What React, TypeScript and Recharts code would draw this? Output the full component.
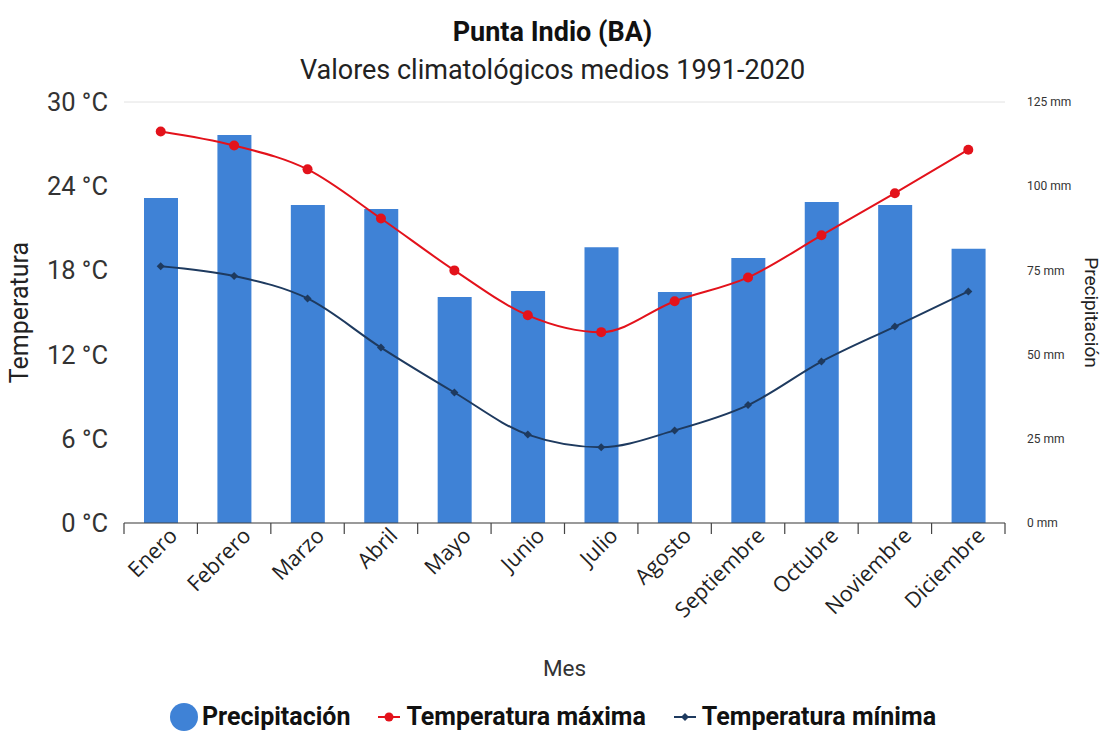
import React from 'react';
import {
  Bar,
  CartesianGrid,
  ComposedChart,
  Line,
  XAxis,
  YAxis,
} from 'recharts';

const months = ['Enero', 'Febrero', 'Marzo', 'Abril', 'Mayo', 'Junio', 'Julio', 'Agosto', 'Septiembre', 'Octubre', 'Noviembre', 'Diciembre'];
const precipitacion = [96.5, 115.2, 94.4, 93.2, 67.1, 68.9, 81.9, 68.6, 78.7, 95.3, 94.4, 81.4];
const tempMax = [27.9, 26.9, 25.2, 21.7, 18.0, 14.8, 13.6, 15.8, 17.5, 20.5, 23.5, 26.6];
const tempMin = [18.3, 17.6, 16.0, 12.5, 9.3, 6.3, 5.4, 6.6, 8.4, 11.5, 14.0, 16.5];
const tempTicks = [0, 6, 12, 18, 24, 30];
const precTicks = [0, 25, 50, 75, 100, 125];

const data = months.map((mes, i) => ({
  mes,
  prec: precipitacion[i],
  max: tempMax[i],
  min: tempMin[i],
}));

const W = 1105;
const H = 734;
const LEFT = 124;
const RIGHT = 100;
const TOP = 102;
const BOTTOM = 211;
const bandW = (W - LEFT - RIGHT) / months.length;

const BLUE = '#3f82d6';
const RED = '#e3121b';
const NAVY = '#1e3a5f';
const FONT = 'Roboto, "Noto Sans", sans-serif';

// x tick: boundary tick marks + rotated month label
function MonthTick(props: any) {
  const { x, y, payload, index } = props;
  const left = x - bandW / 2;
  const tx = x + 18;
  const ty = y + 14;
  return (
    <g>
      <line x1={left} y1={y} x2={left} y2={y + 11} stroke="#444" strokeWidth={1.2} />
      {index === months.length - 1 && (
        <line x1={x + bandW / 2} y1={y} x2={x + bandW / 2} y2={y + 11} stroke="#444" strokeWidth={1.2} />
      )}
      <text
        x={tx}
        y={ty}
        textAnchor="end"
        transform={`rotate(-45 ${tx} ${ty})`}
        fontSize={21.5}
        fontFamily='"Open Sans", sans-serif'
        fill="#222"
      >
        {payload.value}
      </text>
    </g>
  );
}

function Diamond(props: any) {
  const { cx, cy } = props;
  if (cx == null || cy == null) return null;
  const r = 4;
  return <polygon points={`${cx},${cy - r} ${cx + r},${cy} ${cx},${cy + r} ${cx - r},${cy}`} fill={NAVY} />;
}

export default function App() {
  return (
    <div style={{ position: 'absolute', left: 0, top: 0, width: W, height: H, background: '#fff', fontFamily: FONT }}>
      <div style={{ position: 'absolute', top: 15, left: 0, width: W, textAlign: 'center', fontSize: 27, fontWeight: 700, color: '#111', lineHeight: '34px' }}>
        Punta Indio (BA)
      </div>
      <div style={{ position: 'absolute', top: 53, left: 0, width: W, textAlign: 'center', fontSize: 27, color: '#222', lineHeight: '34px' }}>
        Valores climatológicos medios 1991-2020
      </div>
      <ComposedChart width={W} height={H} data={data} margin={{ top: TOP, right: 0, left: 0, bottom: 0 }}>
        <CartesianGrid vertical={false} stroke="#e2e2e2" />
        <XAxis
          dataKey="mes"
          height={BOTTOM}
          interval={0}
          tickLine={false}
          tickSize={0}
          tickMargin={0}
          stroke="#444"
          strokeWidth={1.2}
          tick={<MonthTick />}
          label={{ value: 'Mes', position: 'insideTop', dy: 132, fontSize: 22.5, fill: '#333', fontFamily: FONT }}
        />
        <YAxis
          yAxisId="t"
          width={LEFT}
          domain={[0, 30]}
          ticks={tempTicks}
          axisLine={false}
          tickLine={false}
          tickMargin={10}
          tickFormatter={(v) => `${v} °C`}
          tick={{ fontSize: 25.5, fill: '#333', fontFamily: FONT }}
          label={{ value: 'Temperatura', angle: -90, position: 'insideLeft', dx: 14, fontSize: 25, fill: '#222', fontFamily: FONT, style: { textAnchor: 'middle' } }}
        />
        <YAxis
          yAxisId="p"
          orientation="right"
          width={RIGHT}
          domain={[0, 125]}
          ticks={precTicks}
          axisLine={false}
          tickLine={false}
          tickMargin={16}
          tickFormatter={(v) => `${v} mm`}
          tick={{ fontSize: 12, fill: '#333', fontFamily: FONT, textAnchor: 'start' }}
          label={{ value: 'Precipitación', angle: 90, position: 'insideRight', dx: -8, fontSize: 19, fill: '#222', fontFamily: FONT, style: { textAnchor: 'middle' } }}
        />
        <Bar yAxisId="p" dataKey="prec" fill={BLUE} barSize={34} isAnimationActive={false} />
        <Line
          yAxisId="t"
          type="monotone"
          dataKey="max"
          stroke={RED}
          strokeWidth={2}
          dot={{ r: 5, fill: RED, stroke: RED, strokeWidth: 0 }}
          activeDot={false}
          isAnimationActive={false}
        />
        <Line
          yAxisId="t"
          type="monotone"
          dataKey="min"
          stroke={NAVY}
          strokeWidth={2}
          dot={<Diamond />}
          activeDot={false}
          isAnimationActive={false}
        />
      </ComposedChart>
      <div style={{ position: 'absolute', top: 702, left: 0, width: W, display: 'flex', justifyContent: 'center', alignItems: 'center', fontSize: 25, fontWeight: 700, color: '#111', gap: 26, lineHeight: '30px' }}>
        <span style={{ display: 'flex', alignItems: 'center' }}>
          <svg width={30} height={30} style={{ marginRight: 3 }}>
            <circle cx={15} cy={15} r={14} fill={BLUE} />
          </svg>
          Precipitación
        </span>
        <span style={{ display: 'flex', alignItems: 'center' }}>
          <svg width={26} height={14} style={{ marginRight: 4 }}>
            <line x1={2} y1={7} x2={24} y2={7} stroke={RED} strokeWidth={2} />
            <circle cx={13} cy={7} r={4.5} fill={RED} />
          </svg>
          Temperatura máxima
        </span>
        <span style={{ display: 'flex', alignItems: 'center' }}>
          <svg width={26} height={14} style={{ marginRight: 4 }}>
            <line x1={2} y1={7} x2={24} y2={7} stroke={NAVY} strokeWidth={2} />
            <polygon points="13,3 17,7 13,11 9,7" fill={NAVY} />
          </svg>
          Temperatura mínima
        </span>
      </div>
    </div>
  );
}
